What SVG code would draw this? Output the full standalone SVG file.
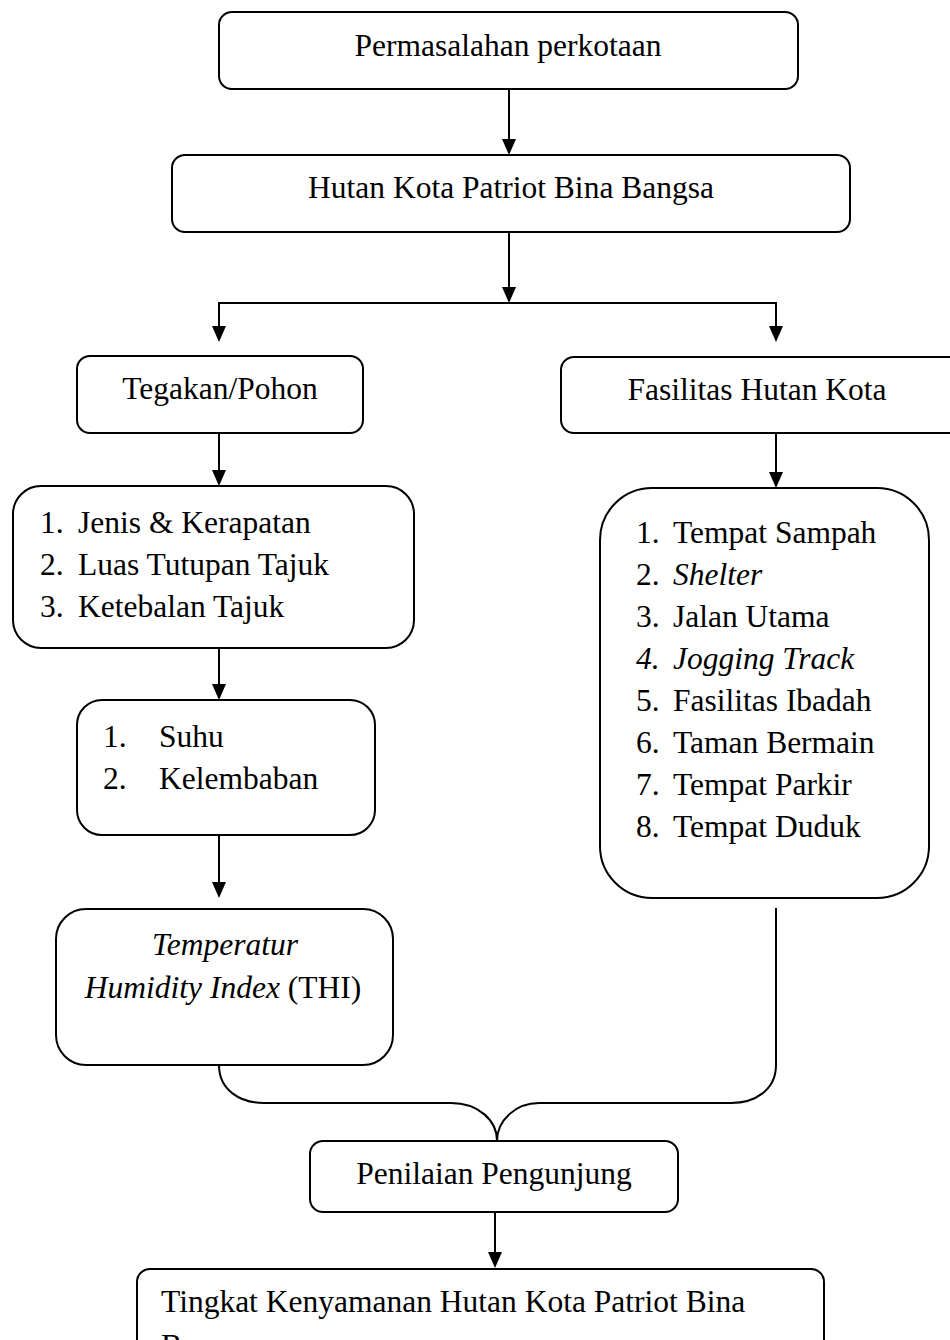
<svg xmlns="http://www.w3.org/2000/svg" width="950" height="1340" viewBox="0 0 950 1340">
<style>
.box{fill:#fff;stroke:#000;stroke-width:2}
.ln{fill:none;stroke:#000;stroke-width:2}
text{font-family:"Liberation Serif","Times New Roman",serif;font-size:31.5px;fill:#000}
.c{text-anchor:middle}
.i{font-style:italic}
</style>
<rect width="950" height="1340" fill="#fff"/>
<g id="connectors">
<path class="ln" d="M509,89 V141"/><path d="M502,139 L516,139 L509,155 Z"/>
<path class="ln" d="M509,232 V289"/><path d="M502,287 L516,287 L509,303 Z"/>
<path class="ln" d="M219,330 V303 H776 V330"/>
<path d="M212,326 L226,326 L219,342 Z"/><path d="M769,326 L783,326 L776,342 Z"/>
<path class="ln" d="M219,433 V472"/><path d="M212,470 L226,470 L219,486 Z"/>
<path class="ln" d="M776,433 V474"/><path d="M769,472 L783,472 L776,488 Z"/>
<path class="ln" d="M219,648 V686"/><path d="M212,684 L226,684 L219,700 Z"/>
<path class="ln" d="M219,835 V884"/><path d="M212,882 L226,882 L219,898 Z"/>
<path class="ln" d="M219,1065 C219,1090 240,1103 264,1103 L451,1103 C478,1103 497,1120 497,1141"/>
<path class="ln" d="M776,908 V1065 C776,1090 755,1103 731,1103 L539,1103 C516,1103 497,1120 497,1141"/>
<path class="ln" d="M495,1212 V1254"/><path d="M488,1252 L502,1252 L495,1268 Z"/>
</g>
<g id="n1"><rect class="box" x="219" y="12" width="579" height="77" rx="13"/><text class="c" x="508" y="56">Permasalahan perkotaan</text></g>
<g id="n2"><rect class="box" x="172" y="155" width="678" height="77" rx="13"/><text class="c" x="511" y="198">Hutan Kota Patriot Bina Bangsa</text></g>
<g id="n3"><rect class="box" x="77" y="356" width="286" height="77" rx="13"/><text class="c" x="220" y="399">Tegakan/Pohon</text></g>
<g id="n4"><rect class="box" x="561" y="357" width="410" height="76" rx="13"/><text class="c" x="757" y="400">Fasilitas Hutan Kota</text></g>
<g id="n5"><rect class="box" x="13" y="486" width="401" height="162" rx="28"/>
<text x="40" y="533">1.</text><text x="78" y="533">Jenis &amp; Kerapatan</text>
<text x="40" y="575">2.</text><text x="78" y="575">Luas Tutupan Tajuk</text>
<text x="40" y="617">3.</text><text x="78" y="617">Ketebalan Tajuk</text></g>
<g id="n6"><rect class="box" x="600" y="488" width="329" height="410" rx="52"/>
<text x="636" y="543">1.</text><text x="673" y="543">Tempat Sampah</text>
<text x="636" y="585">2.</text><text class="i" x="673" y="585">Shelter</text>
<text x="636" y="627">3.</text><text x="673" y="627">Jalan Utama</text>
<text class="i" x="636" y="669">4.</text><text class="i" x="673" y="669">Jogging Track</text>
<text x="636" y="711">5.</text><text x="673" y="711">Fasilitas Ibadah</text>
<text x="636" y="753">6.</text><text x="673" y="753">Taman Bermain</text>
<text x="636" y="795">7.</text><text x="673" y="795">Tempat Parkir</text>
<text x="636" y="837">8.</text><text x="673" y="837">Tempat Duduk</text></g>
<g id="n7"><rect class="box" x="77" y="700" width="298" height="135" rx="25"/>
<text x="103" y="747">1.</text><text x="159" y="747">Suhu</text>
<text x="103" y="789">2.</text><text x="159" y="789">Kelembaban</text></g>
<g id="n8"><rect class="box" x="56" y="909" width="337" height="156" rx="30"/>
<text class="c i" x="225" y="955">Temperatur</text>
<text class="c" x="223" y="998"><tspan class="i">Humidity Index</tspan> (THI)</text></g>
<g id="n9"><rect class="box" x="310" y="1141" width="368" height="71" rx="13"/><text class="c" x="494" y="1184">Penilaian Pengunjung</text></g>
<g id="n10"><rect class="box" x="137" y="1269" width="687" height="120" rx="13"/>
<text x="161" y="1312">Tingkat Kenyamanan Hutan Kota Patriot Bina</text>
<text x="161" y="1356">Bangsa</text></g>
</svg>
